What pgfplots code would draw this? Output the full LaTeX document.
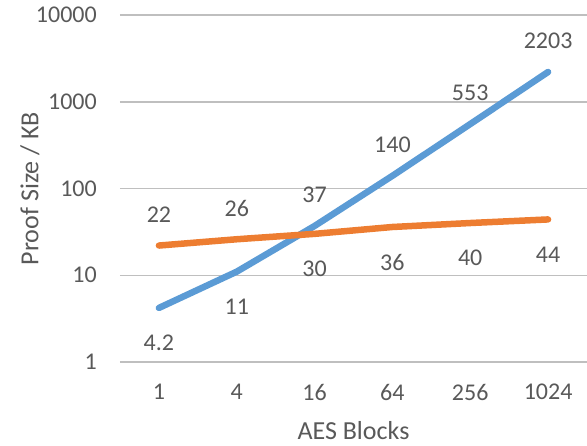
\documentclass[border=0pt]{standalone}
\usepackage{pgfplots}
\pgfplotsset{compat=1.18}
\usepackage{fontspec}
\setmainfont{Carlito}
\definecolor{txt}{RGB}{89,89,89}
\definecolor{grid}{RGB}{217,217,217}
\definecolor{cblue}{RGB}{91,155,213}
\definecolor{corange}{RGB}{237,125,49}
\begin{document}
\begin{tikzpicture}
\useasboundingbox (-120pt,-83pt) rectangle (467pt,362pt);
\begin{axis}[
  at={(0,0)}, anchor=south west,
  scale only axis, width=467pt, height=347pt,
  ymode=log, ymin=1, ymax=10000,
  xmin=-0.5, xmax=5.5,
  axis line style={draw=none},
  major tick length=0pt, minor tick length=0pt,
  tick style={draw=none},
  xtick={0,1,2,3,4,5},
  xticklabels={1,4,16,64,256,1024},
  ytick={1,10,100,1000,10000},
  yticklabels={1,10,100,1000,10000},
  minor ytick={}, minor xtick={},
  xmajorgrids=false, xminorgrids=false, yminorgrids=false,
  ymajorgrids=true, major grid style={grid, line width=1.5pt},
  ticklabel style={font=\fontsize{24}{28}\selectfont, text=txt, inner sep=0pt},
  yticklabel style={anchor=east, xshift=-23pt},
  xticklabel style={anchor=north, yshift=-22pt},
  xlabel={AES Blocks}, ylabel={Proof Size / KB},
  label style={font=\fontsize{26}{30}\selectfont, text=txt},
  xlabel style={at={(axis description cs:0.5,0)}, anchor=center, yshift=-69pt},
  ylabel style={at={(axis description cs:-0.1927,0.5)}, anchor=center},
  clip=false,
  nodes near coords style={font=\fontsize{24}{28}\selectfont, text=txt, anchor=center},
]
\addplot[cblue, line width=6.5pt, line cap=round, line join=round] coordinates {(0,4.2) (1,11) (2,37) (3,140) (4,553) (5,2203)};
\addplot[corange, line width=6.5pt, line cap=round, line join=round] coordinates {(0,22) (1,26) (2,30) (3,36) (4,40) (5,44)};
% labels above
\addplot[draw=none, nodes near coords, point meta=explicit symbolic, nodes near coords style={yshift=31pt}]
  coordinates {(2,37) [37] (3,140) [140] (4,553) [553] (5,2203) [2203] (0,22) [22] (1,26) [26]};
% labels below
\addplot[draw=none, nodes near coords, point meta=explicit symbolic, nodes near coords style={yshift=-35pt}]
  coordinates {(0,4.2) [4.2] (1,11) [11] (2,30) [30] (3,36) [36] (4,40) [40] (5,44) [44]};
\end{axis}
\end{tikzpicture}
\end{document}
